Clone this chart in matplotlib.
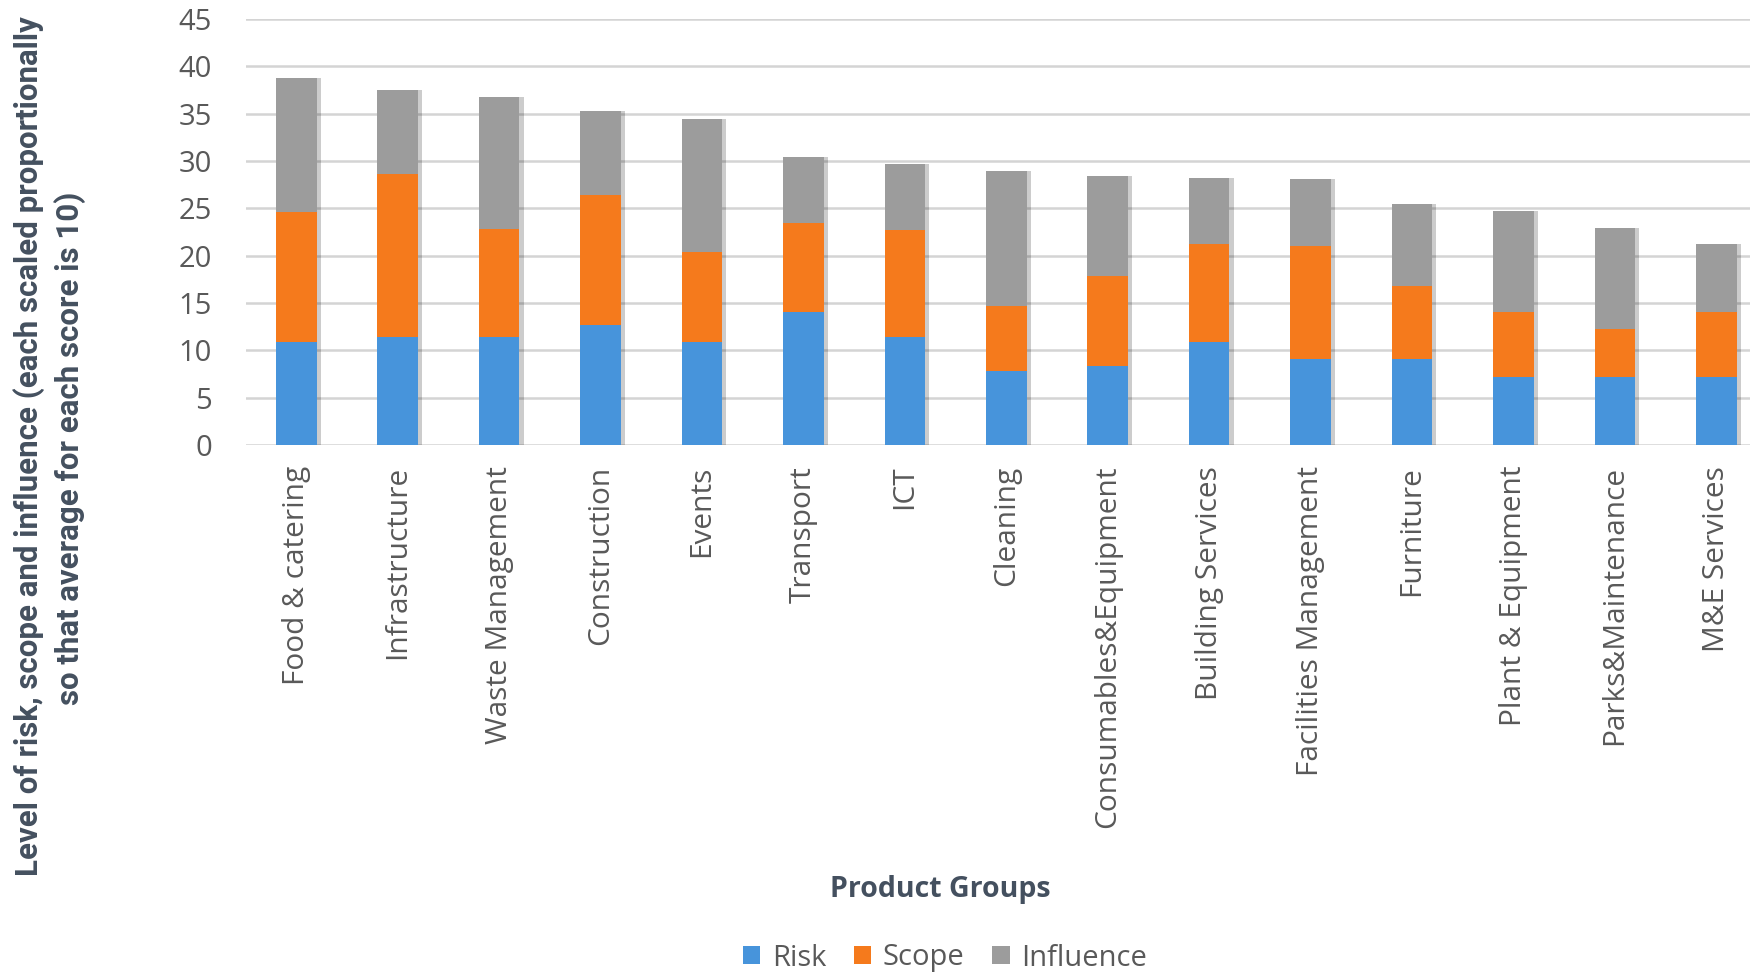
import matplotlib
matplotlib.use("Agg")
import matplotlib.pyplot as plt
import matplotlib.patheffects as pe
from matplotlib.patches import Patch
import numpy as np

categories = ["Food & catering", "Infrastructure", "Waste Management", "Construction",
              "Events", "Transport", "ICT", "Cleaning", "Consumables&Equipment",
              "Building Services", "Facilities Management", "Furniture",
              "Plant & Equipment", "Parks&Maintenance", "M&E Services"]
risk = [10.9, 11.4, 11.4, 12.7, 10.9, 14.0, 11.4, 7.8, 8.3, 10.9, 9.1, 9.1, 7.2, 7.2, 7.2]
scope = [13.7, 17.2, 11.4, 13.7, 9.5, 9.4, 11.3, 6.9, 9.5, 10.3, 11.9, 7.7, 6.9, 5.1, 6.9]
influence = [14.2, 8.9, 14.0, 8.9, 14.0, 7.0, 7.0, 14.2, 10.6, 7.0, 7.1, 8.7, 10.6, 10.6, 7.1]
yticks = [0, 5, 10, 15, 20, 25, 30, 35, 40, 45]
series_names = ["Risk", "Scope", "Influence"]

colors = ["#4794DB", "#F57A1C", "#9C9C9C"]
text_col = "#595959"
title_col = "#44505F"

W, H = 1750, 974
fig = plt.figure(figsize=(W / 100, H / 100), dpi=100)
left = 245.5 / W
right = 1767 / W
bottom = (H - 445) / H
top = (H - 19) / H
ax = fig.add_axes([left, bottom, right - left, top - bottom])

x = np.arange(len(categories))
shadow = [pe.SimplePatchShadow(offset=(3, 0), shadow_rgbFace="#000000", alpha=0.2), pe.Normal()]
base = np.zeros(len(categories))
for vals, col, name in zip([risk, scope, influence], colors, series_names):
    ax.bar(x, vals, width=0.4, bottom=base, color=col, label=name, zorder=3,
           path_effects=shadow)
    base = base + np.array(vals)

ax.set_xlim(-0.5, len(categories) - 0.5)
ax.set_ylim(0, 45)
ax.set_yticks(yticks)
ax.yaxis.grid(True, color="#D4D4D4", linewidth=1.8, zorder=0)
ax.set_axisbelow(True)
for s in ax.spines.values():
    s.set_visible(False)
ax.tick_params(axis="y", length=0, pad=24, labelsize=21, labelcolor=text_col)
ax.tick_params(axis="x", length=0, pad=15, labelsize=21.5, labelcolor=text_col)
ax.set_xticks(x)
ax.set_xticklabels(categories, rotation=90, va="top", ha="center", family="Open Sans")
for lab in ax.get_yticklabels():
    lab.set_family("Open Sans")

ylab_lines = ["Level of risk, scope and influence (each scaled proportionally",
              "so that average for each score is 10)"]
ylab_x = [29, 70]
ylab_centers = [446, 448]
renderer = fig.canvas.get_renderer()
ylab_texts = []
for txt, xp, yc in zip(ylab_lines, ylab_x, ylab_centers):
    t = fig.text(xp / W, 1 - yc / H, txt, rotation=90, ha="center", va="center",
                 fontsize=20, fontweight="bold", color=title_col, family="Roboto")
    ylab_texts.append(t)
ext = ylab_texts[0].get_window_extent(renderer)
scale = 859 / ext.height
for t in ylab_texts:
    t.set_fontsize(20 * scale)

fig.text(940 / W, 1 - 890 / H, "Product Groups", ha="center", va="center",
         fontsize=20.5, fontweight="bold", color=title_col, family="Open Sans")

handles = [Patch(facecolor=c, edgecolor="none") for c in colors]
leg = fig.legend(handles=handles, labels=series_names, loc="center",
                 bbox_to_anchor=(945 / W, 1 - 958 / H), ncol=3, frameon=False,
                 handlelength=0.6, handleheight=0.6, handletextpad=0.4,
                 columnspacing=0.95, prop={"family": "Open Sans", "size": 21})
for t in leg.get_texts():
    t.set_color(text_col)

fig.savefig("out.png", dpi=100)
